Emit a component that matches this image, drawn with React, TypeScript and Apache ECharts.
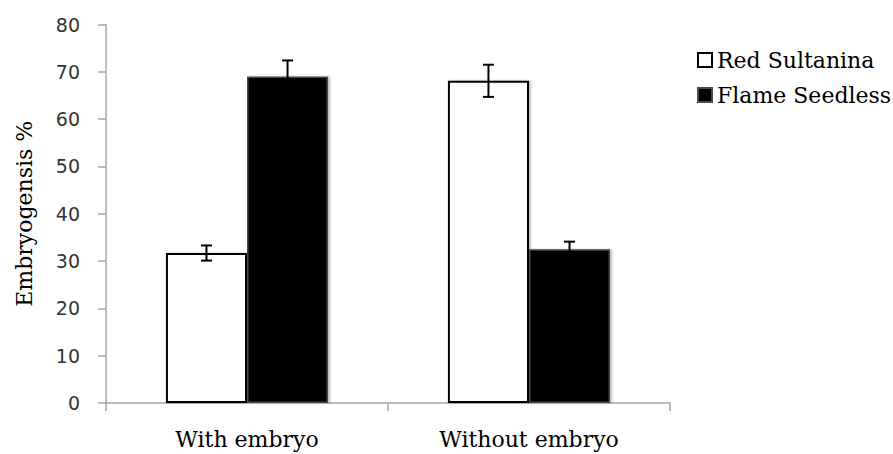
import React, { useEffect, useRef } from "react";
import * as echarts from "echarts";

const categories = ["With embryo", "Without embryo"];
const seriesNames = ["Red Sultanina", "Flame Seedless"];
const redValues = [31.7, 68.1];
const redErrors = [1.6, 3.4];
const flameValues = [69.0, 32.5];
const flameErrors = [3.4, 1.6];
const yTicks = { min: 0, max: 80, interval: 10 };

const GAP = 0.425;
const SERIF = "DejaVu Serif";

function errorSeries(name: string, values: number[], errors: number[], side: number) {
  return {
    type: "custom",
    name: name + " error",
    silent: true,
    z: 10,
    data: values.map((v, i) => [i, v, errors[i]]),
    renderItem: (params: any, api: any) => {
      const idx = api.value(0);
      const v = api.value(1);
      const e = api.value(2);
      const bandW = api.size([1, 0])[0];
      const barW = (bandW * (1 - GAP)) / 2;
      const cx = api.coord([idx, v])[0] + (side * barW) / 2;
      const yHi = api.coord([idx, v + e])[1];
      const yLo = api.coord([idx, v - e])[1];
      const cap = 5.5;
      const st = { stroke: "#000", lineWidth: 2 };
      return {
        type: "group",
        children: [
          { type: "line", shape: { x1: cx, y1: yHi, x2: cx, y2: yLo }, style: st },
          { type: "line", shape: { x1: cx - cap, y1: yHi, x2: cx + cap, y2: yHi }, style: st },
          { type: "line", shape: { x1: cx - cap, y1: yLo, x2: cx + cap, y2: yLo }, style: st },
        ],
      };
    },
  };
}

export default function App() {
  const ref = useRef<HTMLDivElement>(null);
  useEffect(() => {
    if (!ref.current) return;
    const chart = echarts.init(ref.current, null, { renderer: "svg" });
    chart.setOption({
      animation: false,
      backgroundColor: "#fff",
      grid: {
        left: 106,
        right: 223,
        top: 24.5,
        bottom: 51,
        containLabel: false,
        outerBoundsMode: "none",
      },
      legend: {
        orient: "vertical",
        left: 697,
        top: 48,
        padding: 0,
        icon: "rect",
        itemWidth: 14,
        itemHeight: 14,
        itemGap: 11,
        data: seriesNames,
        textStyle: {
          fontFamily: SERIF,
          fontSize: 22,
          color: "#000",
          lineHeight: 24,
        },
      },
      xAxis: {
        type: "category",
        data: categories,
        axisLine: { show: true, lineStyle: { color: "#a6a6a6", width: 1.5 } },
        axisTick: { show: true, length: 8, lineStyle: { color: "#a6a6a6", width: 1.5 } },
        axisLabel: {
          margin: 25,
          fontFamily: SERIF,
          fontSize: 22,
          color: "#000",
        },
      },
      yAxis: {
        type: "value",
        min: yTicks.min,
        max: yTicks.max,
        interval: yTicks.interval,
        name: "Embryogensis %",
        nameLocation: "middle",
        nameGap: 71,
        nameRotate: 90,
        nameTextStyle: { fontFamily: SERIF, fontSize: 22, color: "#000" },
        axisLine: { show: true, lineStyle: { color: "#a6a6a6", width: 1.5 } },
        axisTick: { show: true, length: 8, lineStyle: { color: "#a6a6a6", width: 1.5 } },
        splitLine: { show: false },
        axisLabel: {
          margin: 26,
          fontFamily: "DejaVu Sans",
          fontSize: 19,
          color: "#333",
        },
      },
      series: [
        {
          type: "bar",
          name: seriesNames[0],
          data: redValues,
          barGap: "0%",
          barCategoryGap: GAP * 100 + "%",
          itemStyle: {
            color: "#fff",
            borderColor: "#000",
            borderWidth: 2,
            shadowColor: "rgba(0,0,0,0.25)",
            shadowOffsetX: 2,
            shadowBlur: 2,
          },
        },
        {
          type: "bar",
          name: seriesNames[1],
          data: flameValues,
          barGap: "0%",
          barCategoryGap: GAP * 100 + "%",
          itemStyle: {
            color: "#030303",
            borderColor: "#4a4a4a",
            borderWidth: 1.5,
            shadowColor: "rgba(0,0,0,0.25)",
            shadowOffsetX: 2,
            shadowBlur: 2,
          },
        },
        errorSeries(seriesNames[0], redValues, redErrors, -1),
        errorSeries(seriesNames[1], flameValues, flameErrors, 1),
      ],
    });
    return () => chart.dispose();
  }, []);
  return (
    <div
      ref={ref}
      style={{ position: "fixed", left: 0, top: 0, width: 893, height: 454 }}
    />
  );
}
